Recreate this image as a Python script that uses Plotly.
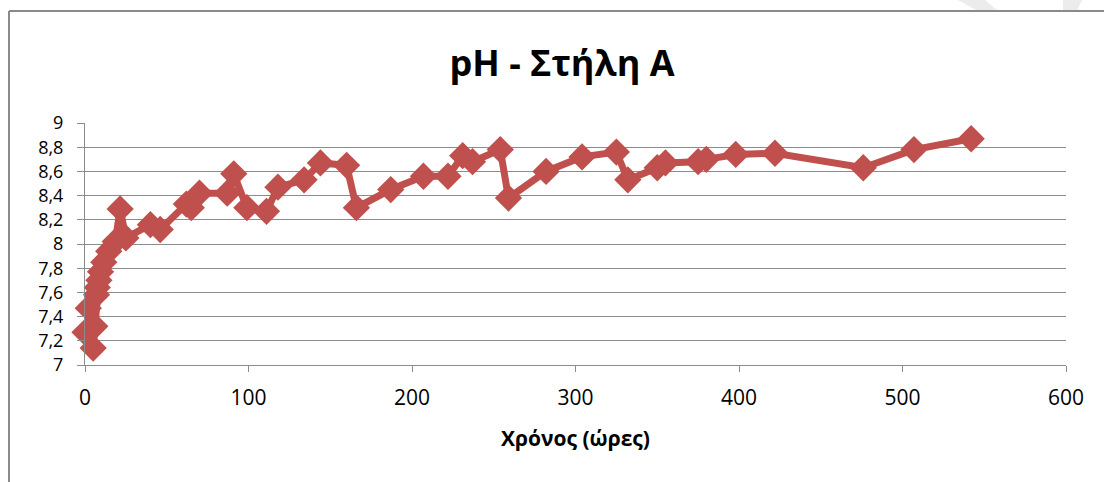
import plotly.graph_objects as go

# Time (hours) and pH readings for column A
hours = [0, 2, 5, 6, 7, 7.5, 8.5, 9.5, 11.5, 14.5, 18.5, 21.5, 25,
         40, 46, 62, 65, 70, 87, 91, 99, 111, 118, 134, 144, 160, 166,
         187, 207, 222, 231, 237, 254, 259, 282, 304, 325, 332, 350, 355,
         375, 380, 398, 422, 476, 507, 542]
ph = [7.27, 7.47, 7.14, 7.32, 7.58, 7.64, 7.70, 7.77, 7.85, 7.94, 8.02, 8.29, 8.05,
      8.16, 8.12, 8.33, 8.30, 8.42, 8.42, 8.58, 8.30, 8.27, 8.47, 8.53, 8.67, 8.65, 8.30,
      8.45, 8.56, 8.56, 8.73, 8.68, 8.78, 8.38, 8.60, 8.72, 8.76, 8.53, 8.63, 8.67,
      8.68, 8.70, 8.74, 8.75, 8.63, 8.78, 8.87]

y_ticks = [7, 7.2, 7.4, 7.6, 7.8, 8, 8.2, 8.4, 8.6, 8.8, 9]
x_ticks = [0, 100, 200, 300, 400, 500, 600]

RED = "#C0504D"
GRID = "#8C8C8C"
FONT = "'Open Sans', Lato, sans-serif"

W, H = 1104, 482
L, R, T, B = 85, 38, 123, 117
PW, PH = W - L - R, H - T - B


def px(x):
    return (x - L) / PW


def py(y):
    return (H - B - y) / PH


fig = go.Figure()
fig.add_trace(go.Scatter(
    x=hours, y=ph, mode="lines+markers",
    line=dict(color=RED, width=7),
    marker=dict(symbol="diamond", size=21, color=RED),
    showlegend=False, cliponaxis=False,
))

shapes = [
    # faint watermark strokes at the top right
    dict(type="path", xref="paper", yref="paper", layer="below",
         path=f"M {px(958)} {py(0)} L {px(985)} {py(0)} L {px(998)} {py(11)} L {px(978)} {py(11)} Z",
         fillcolor="#ECECEC", line=dict(width=0)),
    dict(type="path", xref="paper", yref="paper", layer="below",
         path=f"M {px(1063)} {py(0)} L {px(1082)} {py(0)} L {px(1077)} {py(11)} L {px(1063)} {py(11)} Z",
         fillcolor="#ECECEC", line=dict(width=0)),
    # chart frame (top and left edges)
    dict(type="line", xref="paper", yref="paper",
         x0=px(9), x1=px(1110), y0=py(11), y1=py(11),
         line=dict(color="#8A8A8A", width=2)),
    dict(type="line", xref="paper", yref="paper",
         x0=px(9), x1=px(9), y0=py(11), y1=py(490),
         line=dict(color="#8A8A8A", width=2)),
]

fig.update_layout(
    width=W, height=H,
    margin=dict(l=L, r=R, t=T, b=B),
    paper_bgcolor="white", plot_bgcolor="white",
    separators=",.",
    font=dict(family=FONT, color="#000000"),
    title=dict(text="<b>pH - Στήλη A</b>", x=px(562), xref="paper", xanchor="center",
               y=1 - 63 / H, yanchor="middle", font=dict(size=36, family=FONT)),
    shapes=shapes,
    xaxis=dict(
        range=[0, 600], tickvals=x_ticks, ticktext=[str(v) for v in x_ticks],
        showgrid=False, zeroline=False,
        showline=True, linecolor=GRID, linewidth=1,
        ticks="outside", ticklen=6, tickcolor=GRID,
        ticklabelstandoff=8,
        tickfont=dict(size=21, family=FONT),
        title=dict(text="<b>Χρόνος (ώρες)</b>", font=dict(size=21, family=FONT), standoff=21),
    ),
    yaxis=dict(
        range=[7, 9], tickvals=y_ticks,
        ticktext=[f"{v:g}".replace(".", ",") for v in y_ticks],
        showgrid=True, gridcolor=GRID, gridwidth=1, zeroline=False,
        showline=True, linecolor=GRID, linewidth=1,
        ticks="outside", ticklen=7, tickcolor=GRID,
        ticklabelstandoff=10,
        tickfont=dict(size=18, family=FONT),
    ),
)

fig.write_html("out.html")
